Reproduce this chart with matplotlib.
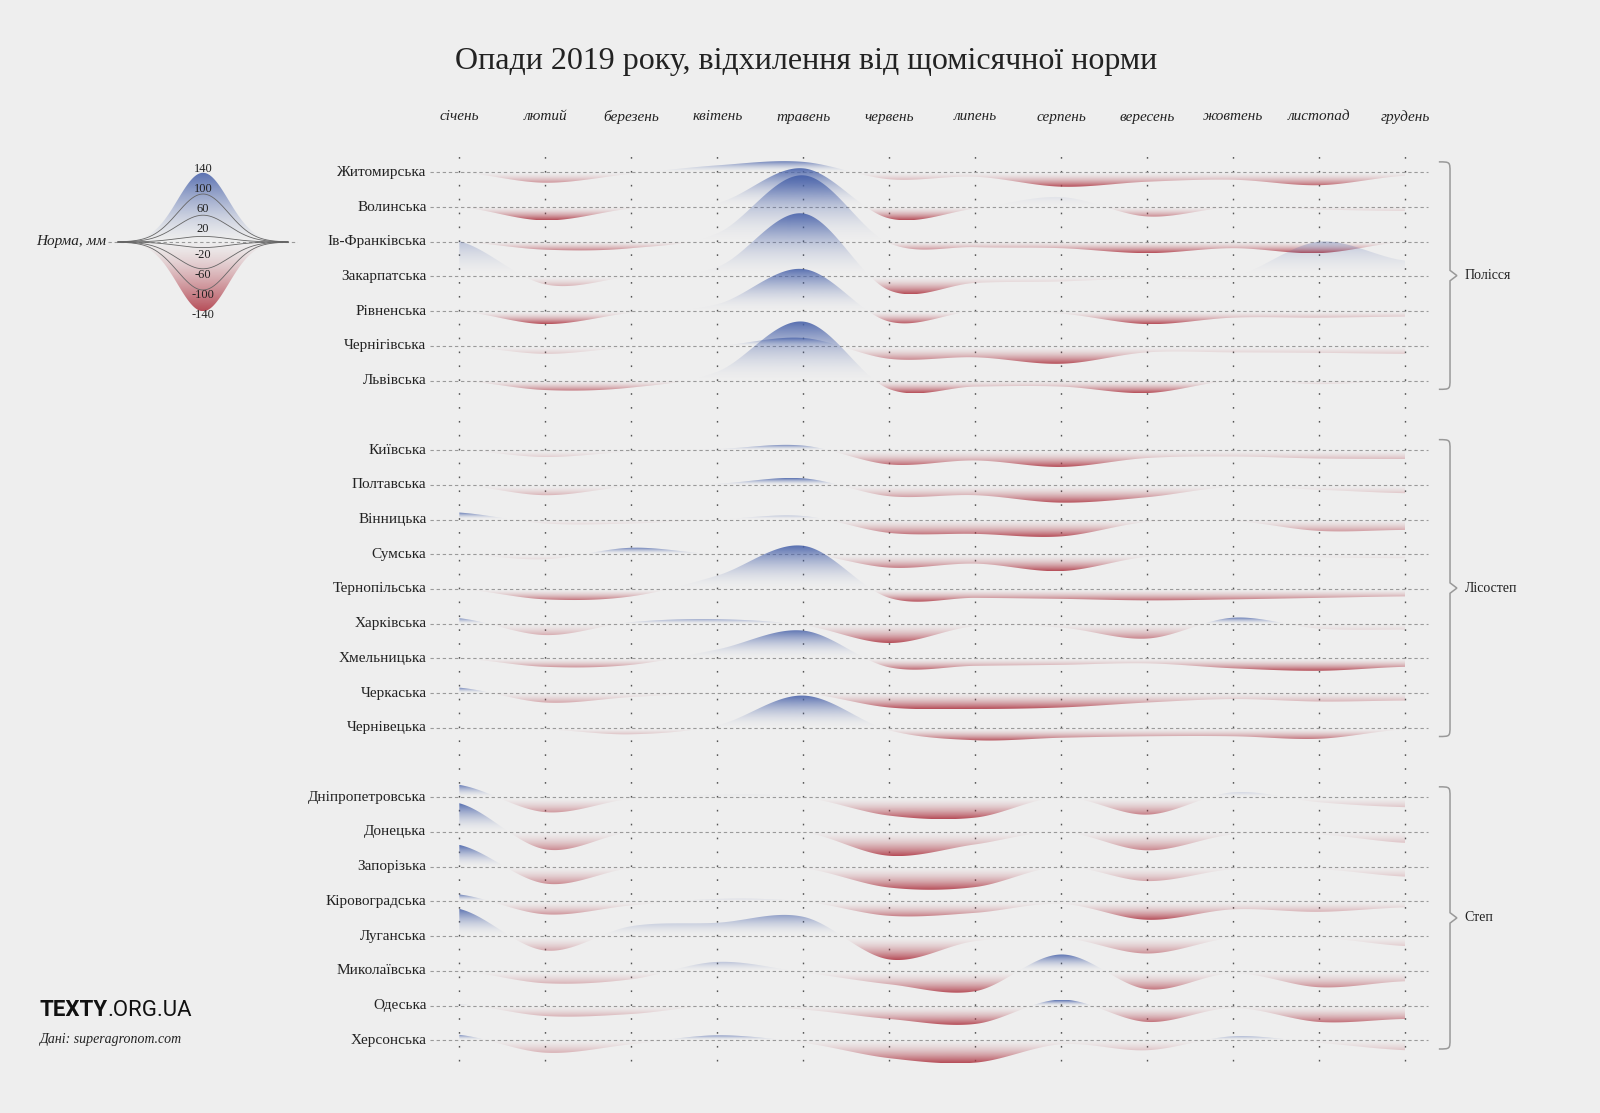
import numpy as np
import matplotlib
matplotlib.use("Agg")
import matplotlib.pyplot as plt
from matplotlib.patches import Polygon, PathPatch
from matplotlib.path import Path
from matplotlib.colors import to_rgb

# Відхилення опадів від норми, мм (січень ... грудень)
months = ["січень", "лютий", "березень", "квітень", "травень", "червень",
          "липень", "серпень", "вересень", "жовтень", "листопад", "грудень"]

polissya_names = ["Житомирська", "Волинська", "Ів-Франківська", "Закарпатська",
                  "Рівненська", "Чернігівська", "Львівська"]
polissya_vals = [
    [0, -21, -3, 14, 21, -14, -9, -29, -19, -15, -26, -7],
    [0, -27, -3, 8, 78, -23, -3, 20, -19, 0, -5, -8],
    [0, -16, -13, 17, 134, -3, -11, -13, -23, -13, -23, 0],
    [71, -16, 0, 19, 127, -28, -13, -10, -3, 0, 70, 32],
    [0, -26, -3, 14, 85, -21, 0, -5, -26, -13, -13, -11],
    [0, -16, -3, 0, 16, -26, -23, -36, -13, -13, -14, -16],
    [0, -19, -14, 18, 119, -17, -12, -12, -25, 0, -7, 0],
]

lisostep_names = ["Київська", "Полтавська", "Вінницька", "Сумська", "Тернопільська",
                  "Харківська", "Хмельницька", "Черкаська", "Чернівецька"]
lisostep_vals = [
    [0, -14, -3, 2, 9, -29, -21, -34, -16, -13, -17, -18],
    [0, -21, -3, 2, 13, -23, -21, -36, -25, -4, -10, -17],
    [14, -8, -8, 0, 7, -27, -29, -34, -5, -3, -23, -21],
    [0, -10, 13, 0, 2, -27, -19, -34, -5, 0, -6, -8],
    [0, -21, -15, 27, 87, -18, -18, -20, -23, -21, -18, -15],
    [11, -23, 3, 9, -3, -39, -5, -8, -30, 12, -10, -12],
    [0, -17, -13, 18, 56, -18, -15, -13, -10, -20, -25, -17],
    [11, -19, -8, 0, 0, -29, -32, -29, -19, -12, -17, -15],
    [0, -3, -13, 5, 65, -5, -25, -20, -17, -17, -22, -3],
]

step_names = ["Дніпропетровська", "Донецька", "Запорізька", "Кіровоградська",
              "Луганська", "Миколаївська", "Одеська", "Херсонська"]
step_vals = [
    [25, -30, -3, 5, 0, -37, -41, 0, -35, 10, -10, -20],
    [58, -35, 0, 0, 0, -48, -25, 0, -37, -5, -5, -22],
    [44, -34, -3, 0, -3, -42, -41, 0, -29, -5, -5, -20],
    [14, -26, -8, 5, 0, -29, -23, -5, -37, -16, -21, -12],
    [55, -29, 20, 27, 39, -47, -10, -3, -35, -3, -3, -20],
    [0, -25, -17, 18, -3, -27, -41, 33, -37, -5, -33, -21],
    [3, -21, -17, 0, -8, -27, -37, 12, -33, -5, -33, -27],
    [11, -25, -8, 10, -5, -36, -45, -8, -20, 8, -5, -20],
]

groups = [("Полісся", polissya_names, polissya_vals),
          ("Лісостеп", lisostep_names, lisostep_vals),
          ("Степ", step_names, step_vals)]

legend_levels = [140, 100, 60, 20, -20, -60, -100, -140]

BG = "#eeeeee"
BLUE = "#4862aa"
RED = "#b03c48"
INK = "#222222"
SERIF = ["Liberation Serif", "DejaVu Serif"]

W, H = 1600, 1113
ROW = 70.0                      # мм на один рядок
PX_MONTH = 86.0
PX_MM = 34.72 / ROW
X0, Y0 = 459.3, 172.3


def smooth(vals, steps=40):
    # catmull-rom крива через точки місяців
    v = np.asarray(vals, float)
    p = np.concatenate([[v[0]], v, [v[-1]]])
    t = np.linspace(0, 1, steps, endpoint=False)
    xs, ys = [], []
    for i in range(len(v) - 1):
        p0, p1, p2, p3 = p[i], p[i + 1], p[i + 2], p[i + 3]
        y = 0.5 * (2 * p1 + (-p0 + p2) * t + (2 * p0 - 5 * p1 + 4 * p2 - p3) * t ** 2
                   + (-p0 + 3 * p1 - 3 * p2 + p3) * t ** 3)
        xs.append(i + t)
        ys.append(y)
    xs.append([len(v) - 1])
    ys.append([v[-1]])
    return np.concatenate(xs), np.concatenate(ys)


def shaded(axis, x, curve, base, color, z, gamma=1.8, amax=0.92):
    ext = curve[np.argmax(np.abs(curve - base))]
    if abs(ext - base) < 0.5:
        return
    verts = np.vstack([np.column_stack([x, curve]),
                       np.column_stack([x[::-1], np.full(len(x), base)])])
    patch = Polygon(verts, closed=True, facecolor="none", edgecolor="none")
    axis.add_patch(patch)
    n = 256
    rgba = np.zeros((n, 1, 4))
    rgba[..., :3] = to_rgb(color)
    rgba[:, 0, 3] = np.linspace(0, 1, n) ** gamma * amax
    if ext < base:
        rgba = rgba[::-1]
    im = axis.imshow(rgba, extent=[x[0], x[-1], min(base, ext), max(base, ext)],
                     origin="lower", aspect="auto", interpolation="bilinear", zorder=z)
    im.set_clip_path(patch)


fig = plt.figure(figsize=(W / 100, H / 100), dpi=100, facecolor=BG)
ax = fig.add_axes([0, 0, 1, 1])
ax.set_facecolor(BG)
ax.axis("off")
ax.set_autoscale_on(False)
xlim = (-X0 / PX_MONTH, (W - X0) / PX_MONTH)
ylim = (-(H - Y0) / PX_MM, Y0 / PX_MM)
ax.set_xlim(*xlim)
ax.set_ylim(*ylim)

# вертикальні пунктири місяців
ax.vlines(range(12), -25.6 * ROW, 0.6 * ROW, colors="#555555",
          linestyles=(0, (1.2, 8.8)), lw=1.0, zorder=1)

slot = 0
z = 3
for gname, names, vals in groups:
    first = slot
    for name, row in zip(names, vals):
        base = -slot * ROW
        ax.hlines(base, -0.34, 11.26, colors="#9a9a9a", linestyles=(0, (3, 2.5)),
                  lw=0.8, zorder=2)
        ax.text(-0.38, base, name, ha="right", va="center", fontsize=11,
                family=SERIF, color=INK, zorder=50)
        x, c = smooth(row)
        shaded(ax, x, base + np.clip(c, 0, None), base, BLUE, z)
        shaded(ax, x, base + np.clip(c, None, 0), base, RED, z + 1)
        z += 2
        slot += 1
    last = slot - 1
    # фігурна дужка групи
    top = -first * ROW + 0.3 * ROW
    bot = -last * ROW - 0.25 * ROW
    mid = (top + bot) / 2
    xe, xs, xt = 11.39, 11.52, 11.60
    r = 0.3 * ROW
    verts = [(xe, top), (xs, top), (xs, top), (xs, top - r),
             (xs, mid + r * 0.5), (xt, mid), (xs, mid - r * 0.5),
             (xs, bot + r), (xs, bot), (xs, bot), (xe, bot)]
    codes = [Path.MOVETO, Path.CURVE4, Path.CURVE4, Path.CURVE4,
             Path.LINETO, Path.LINETO, Path.LINETO,
             Path.LINETO, Path.CURVE4, Path.CURVE4, Path.CURVE4]
    ax.add_patch(PathPatch(Path(verts, codes), facecolor="none", edgecolor="#999999",
                           lw=1.1, zorder=2))
    ax.text(11.69, mid, gname, ha="left", va="center", fontsize=10,
            family=SERIF, color=INK)
    slot += 1

for i, m in enumerate(months):
    ax.text(i, (Y0 - 117) / PX_MM, m, ha="center", va="center", fontsize=11,
            style="italic", family=SERIF, color=INK)

ax.set_xlim(*xlim)
ax.set_ylim(*ylim)

fig.text(806 / W, 1 - 61 / H, "Опади 2019 року, відхилення від щомісячної норми",
         ha="center", va="center", fontsize=23, family=SERIF, color=INK)

# легенда
lg = fig.add_axes([(203 - 95) / W, (H - 242 - 85) / H, 190 / W, 170 / H])
lg.set_facecolor("none")
lg.axis("off")
lg.set_autoscale_on(False)
lg.set_xlim(-95, 95)
lg.set_ylim(-85, 85)
xx = np.linspace(-85, 85, 400)
bell = np.exp(-0.5 * (xx / 25.5) ** 2)
lg.hlines(0, -95, 95, colors="#9a9a9a", linestyles=(0, (3, 2.5)), lw=0.8, zorder=1)
for v in legend_levels:
    amp = np.sign(v) * (0.53 * abs(v) - 5)
    if abs(v) == max(legend_levels):
        shaded(lg, xx, amp * bell, 0, BLUE if v > 0 else RED, 2, gamma=1.4, amax=0.9)
    else:
        lg.plot(xx, amp * bell, color="#666666", lw=0.6, zorder=3)
    lg.text(0, np.sign(v) * (0.5 * abs(v) + 3), str(v), ha="center", va="center",
            fontsize=9, family=SERIF, color=INK, zorder=4)
lg.set_xlim(-95, 95)
lg.set_ylim(-85, 85)
lg.text(-97, 0, "Норма, мм", ha="right", va="center", fontsize=11, style="italic",
        family=SERIF, color=INK, clip_on=False)

# логотип і джерело
t1 = fig.text(39 / W, 1 - 1010 / H, "TEXTY", ha="left", va="center", fontsize=16,
              fontweight="bold", family=["Roboto", "DejaVu Sans"], color="#111111")
fig.canvas.draw()
bb = t1.get_window_extent()
fig.text(bb.x1 / W, 1 - 1010 / H, ".ORG.UA", ha="left", va="center", fontsize=16,
         family=["Roboto", "DejaVu Sans"], color="#111111")
fig.text(39 / W, 1 - 1039 / H, "Дані: superagronom.com", ha="left", va="center",
         fontsize=10, style="italic", family=SERIF, color=INK)

fig.savefig("out.png", dpi=100, facecolor=BG)
